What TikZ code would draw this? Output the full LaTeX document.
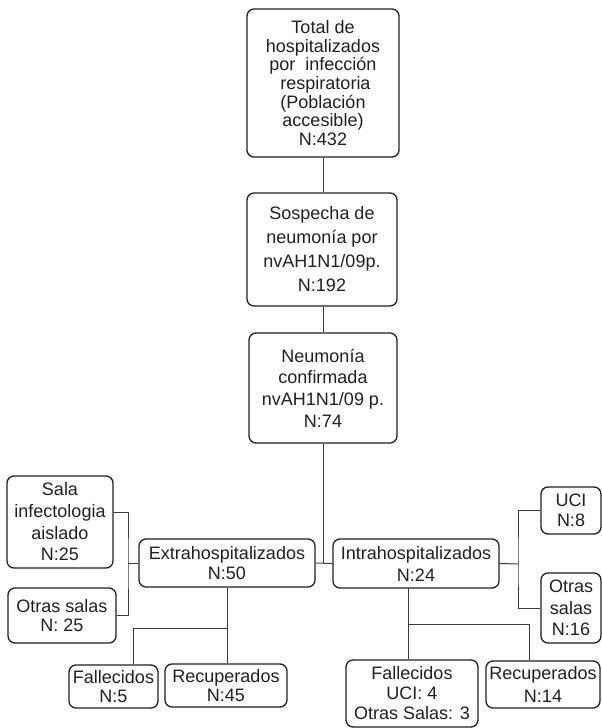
\documentclass[tikz,border=0pt]{standalone}
\usepackage{fontspec}
\setmainfont{Liberation Sans}
\definecolor{ink}{HTML}{231F20}
\definecolor{wire}{HTML}{3A3A3A}
\newcommand{\fsz}[1]{\fontsize{18}{#1}\selectfont}
\tikzset{
  boxnode/.style={draw=ink, line width=1.3pt, rounded corners=7pt, inner sep=0pt,
    align=center, text=ink, minimum width=#1},
  wireline/.style={draw=wire, line width=1pt}
}
\begin{document}
\begin{tikzpicture}[x=1pt,y=-1pt]
\useasboundingbox (0,0) rectangle (602,728);
% main column
\node[boxnode=152pt, minimum height=148pt, font=\fsz{18.7}] (total) at (323,83)
  {Total de\\hospitalizados\\por\ \ infección\\\ respiratoria\\(Población\\accesible)\\N:432};
\node[boxnode=150pt, minimum height=113pt, font=\fsz{24}] (sosp) at (322,249.5)
  {Sospecha de\\neumonía por\\nvAH1N1/09p.\\N:192};
\node[boxnode=148pt, minimum height=110pt, font=\fsz{21.7}] (neum) at (323,388)
  {Neumonía\\confirmada\\nvAH1N1/09 p.\\N:74};
% second level
\node[boxnode=176pt, minimum height=48pt, font=\fsz{20}] (extra) at (227,563)
  {Extrahospitalizados\\N:50};
\node[boxnode=166pt, minimum height=49pt, font=\fsz{22}] (intra) at (416,563.5)
  {Intrahospitalizados\\N:24};
% left branch
\node[boxnode=106pt, minimum height=92pt, font=\fsz{21.7}] (sala) at (60,522)
  {Sala\\infectologia\\aislado\\N:25};
\node[boxnode=108pt, minimum height=55pt, font=\fsz{18.5}] (otras1) at (62,615.5)
  {Otras salas\\N: 25};
\node[boxnode=89pt, minimum height=43pt, font=\fsz{19}] (fall1) at (113.5,686.5)
  {Fallecidos\\N:5};
\node[boxnode=122pt, minimum height=43pt, font=\fsz{19}] (recu1) at (226,685.5)
  {Recuperados\\N:45};
% right branch
\node[boxnode=60pt, minimum height=47pt, font=\fsz{20}] (uci) at (571,510.5)
  {UCI\\N:8};
\node[boxnode=60pt, minimum height=70pt, font=\fsz{21.5}] (otras2) at (571,608)
  {Otras\\salas\\N:16};
\node[boxnode=132pt, minimum height=67pt, font=\fsz{20}] (fall2) at (412,693.5)
  {Fallecidos\\UCI: 4\\Otras Salas: 3};
\node[boxnode=114pt, minimum height=47pt, font=\fsz{23}] (recu2) at (543,684.5)
  {Recuperados\\N:14};
% junction coordinates
\coordinate (lb) at (128,563);
\coordinate (rb) at (518,564);
\coordinate (blr) at (227,628);
\coordinate (bll) at (133,628);
\coordinate (brl) at (408,624);
\coordinate (brr) at (529,624);
\coordinate (bri) at (408,588);
% connectors
\draw[wireline] (total.south) -- (total.south |- sosp.north);
\draw[wireline] (sosp.south -| total.south) -- (total.south |- neum.north);
\draw[wireline] (neum.south) -- (neum.south |- extra.east);
\draw[wireline] (extra.east) -- (intra.west);
\draw[wireline] ([yshift=10pt]sala.east) -| (lb) |- (otras1.east);
\draw[wireline] (lb) -- (extra.west);
\draw[wireline] (intra.east) -- (rb);
\draw[wireline] (uci.west) -| (rb) |- (otras2.west);
\draw[wireline] (extra.south) -- (extra.south |- recu1.north);
\draw[wireline] (blr) -- (bll) -- (bll |- fall1.north);
\draw[wireline] (bri) -- (bri |- fall2.north);
\draw[wireline] (brl) -- (brr) -- (brr |- recu2.north);
\end{tikzpicture}
\end{document}
